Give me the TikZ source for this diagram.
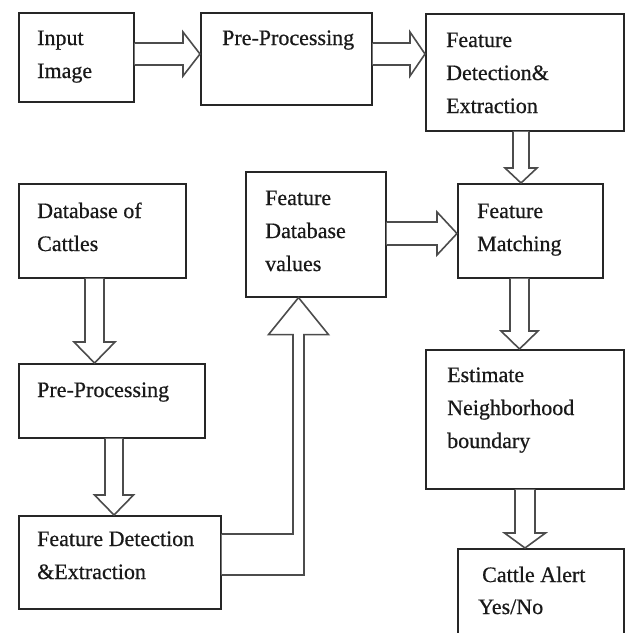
\documentclass[tikz,border=0pt]{standalone}
\usepackage{fontspec}
\setmainfont{Liberation Serif}[FakeBold=0.6]
\usetikzlibrary{calc}
\newcommand\mylines[1]{\begin{tabular}[t]{@{}l@{}}#1\end{tabular}}
\tikzset{
  box/.style={draw=black!85, line width=1.6pt, fill=white, inner sep=0pt},
  txt/.style={anchor=base west, inner sep=0pt, text=black!90, font=\fontsize{22}{33}\selectfont},
  barrow/.style={draw=black!70, line width=1.6pt, fill=white, line join=miter},
}
% horizontal block arrow: #1 start, #2 tip, #3 shaft half, #4 head half, #5 head length
\newcommand\harr[5]{\draw[barrow] ($(#1)+(0,-#3)$) -- ($(#2)+(-#5,-#3)$) -- ($(#2)+(-#5,-#4)$) -- (#2) -- ($(#2)+(-#5,#4)$) -- ($(#2)+(-#5,#3)$) -- ($(#1)+(0,#3)$);}
% vertical (downward) block arrow
\newcommand\varr[5]{\draw[barrow] ($(#1)+(-#3,0)$) -- ($(#2)+(-#3,-#5)$) -- ($(#2)+(-#4,-#5)$) -- (#2) -- ($(#2)+(#4,-#5)$) -- ($(#2)+(#3,-#5)$) -- ($(#1)+(#3,0)$);}
\begin{document}
\begin{tikzpicture}[x=1pt,y=-1pt]
\useasboundingbox (0,0) rectangle (629,633);
\begin{scope}
\clip (0,0) rectangle (629,633);
% boxes
\node[box, minimum width=115pt, minimum height=89pt, anchor=north west] (b1) at (18,12) {};
\node[box, minimum width=171pt, minimum height=92pt, anchor=north west] (b2) at (200,12) {};
\node[box, minimum width=198pt, minimum height=117pt, anchor=north west] (b3) at (425,13) {};
\node[box, minimum width=167pt, minimum height=94pt, anchor=north west] (b4) at (18,183) {};
\node[box, minimum width=140pt, minimum height=125pt, anchor=north west] (b5) at (245,171) {};
\node[box, minimum width=145pt, minimum height=94pt, anchor=north west] (b6) at (457,183) {};
\node[box, minimum width=186pt, minimum height=74pt, anchor=north west] (b7) at (18,363) {};
\node[box, minimum width=202pt, minimum height=93pt, anchor=north west] (b8) at (18,515) {};
\node[box, minimum width=198pt, minimum height=139pt, anchor=north west] (b9) at (425,349) {};
\node[box, minimum width=166pt, minimum height=100pt, anchor=north west] (b10) at (457,548) {};
% texts
\node[txt] (t1) at (37,45) {\mylines{Input\\Image}};
\node[txt] (t2) at (222,45) {\mylines{Pre-Processing}};
\node[txt] (t3) at (446,47) {\mylines{Feature\\Detection\&\\Extraction}};
\node[txt] (t4) at (37,218) {\mylines{Database of\\Cattles}};
\node[txt] (t5) at (265,205) {\mylines{Feature\\Database\\values}};
\node[txt] (t6) at (477,218) {\mylines{Feature\\Matching}};
\node[txt] (t7) at (37,397) {\mylines{Pre-Processing}};
\node[txt] (t8) at (37,546) {\mylines{Feature Detection\\\&Extraction}};
\node[txt] (t9) at (447,382) {\mylines{Estimate\\Neighborhood\\boundary}};
\node[txt] (t10) at (482,582) {\mylines{Cattle Alert\\[-1pt]\hspace*{-4pt}Yes/No}};
% arrow anchor coordinates
\coordinate (a1s) at (b1.east |- 0,54);  \coordinate (a1e) at (b2.west |- 0,54);
\coordinate (a2s) at (b2.east |- 0,54);  \coordinate (a2e) at (b3.west |- 0,54);
\coordinate (a3s) at (b3.south -| 521,0); \coordinate (a3e) at (b6.north -| 521,0);
\coordinate (a4s) at (b5.east |- 0,233.5); \coordinate (a4e) at (b6.west |- 0,233.5);
\coordinate (a5s) at (b6.south -| 519.5,0); \coordinate (a5e) at (b9.north -| 519.5,0);
\coordinate (a6s) at (b9.south -| 525,0); \coordinate (a6e) at (b10.north -| 525,0);
\coordinate (a7s) at (b4.south -| 94.5,0); \coordinate (a7e) at (b7.north -| 94.5,0);
\coordinate (a8s) at (b7.south -| 114,0); \coordinate (a8e) at (b8.north -| 114,0);
% block arrows
\harr{a1s}{a1e}{11}{22}{17}
\harr{a2s}{a2e}{11}{22}{15}
\varr{a3s}{a3e}{8}{16}{15}
\harr{a4s}{a4e}{11.5}{21.5}{20}
\varr{a5s}{a5e}{9.5}{18.5}{18}
\varr{a6s}{a6e}{10}{20.5}{15}
\varr{a7s}{a7e}{9.5}{20.5}{21}
\varr{a8s}{a8e}{9}{19.5}{20}
% elbow arrow from lower feature extraction up to feature database
\coordinate (e1) at (b8.east |- 0,534);
\coordinate (e2) at (b8.east |- 0,575);
\coordinate (etip) at (b5.south -| 298.5,0);
\coordinate (eL) at ($(etip)+(-5.5,37)$);
\coordinate (eR) at ($(etip)+(5.5,37)$);
\coordinate (hL) at ($(etip)+(-30,37)$);
\coordinate (hR) at ($(etip)+(30,37)$);
\draw[barrow] (e1) -- (eL |- e1) -- (eL) -- (hL) -- (etip) -- (hR) -- (eR) -- (eR |- e2) -- (e2);
\end{scope}
\end{tikzpicture}
\end{document}
